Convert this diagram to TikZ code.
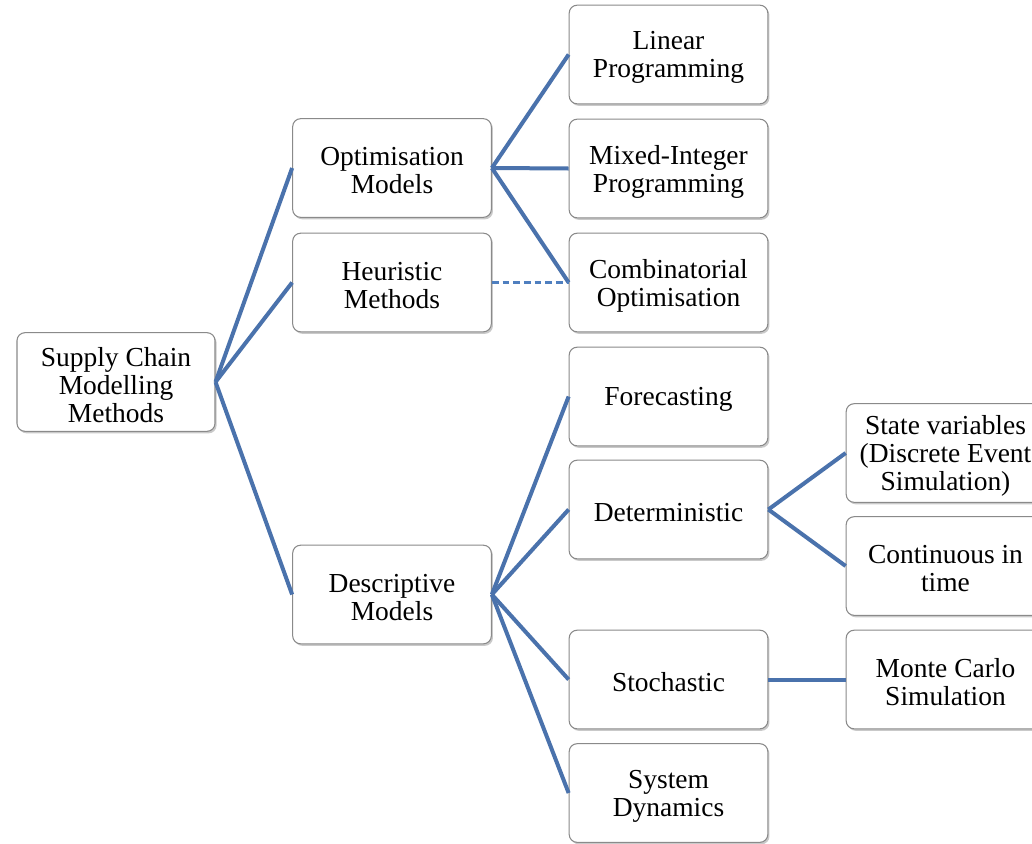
\documentclass[tikz,border=0pt]{standalone}
\usepackage{fontspec}
\setmainfont{Liberation Serif}
\usetikzlibrary{shadows}
\definecolor{linkblue}{HTML}{4A72AC}
\definecolor{dashblue}{HTML}{4F7FBF}
\definecolor{boxgray}{HTML}{8A8A8A}
\begin{document}
\begin{tikzpicture}[x=0.75pt,y=-0.75pt,
  box/.style={draw=boxgray, line width=0.8pt, fill=white, rounded corners=6pt,
    minimum width=149pt, minimum height=74pt, align=center, inner sep=2pt,
    font=\fontsize{20.6}{21}\selectfont,
    drop shadow={shadow xshift=1.2pt, shadow yshift=-1.5pt, opacity=0.35, fill=black!60}},
  lab/.style={align=center, inner sep=0pt, yshift=-2.2pt, font=\fontsize{20.6}{21}\selectfont},
  link/.style={draw=linkblue, line width=3pt},
  dlink/.style={draw=dashblue, line width=1.9pt, dash pattern=on 5pt off 3pt}]
\clip (0,0) rectangle (1032,843);
\fill[white] (0,0) rectangle (1032,843);
\node[box, minimum width=148.5pt, label={[lab]center:Supply Chain\\Modelling\\Methods}] (root) at (116,382) {};
\node[box, label={[lab]center:Optimisation\\Models}] (opt) at (392,168) {};
\node[box, label={[lab]center:Heuristic\\Methods}] (heur) at (392,282.5) {};
\node[box, label={[lab]center:Descriptive\\Models}] (desc) at (392,594.5) {};
\node[box, label={[lab]center:Linear\\Programming}] (lin) at (668.5,54.5) {};
\node[box, label={[lab]center:Mixed-Integer\\Programming}] (mix) at (668.5,168.5) {};
\node[box, label={[lab]center:Combinatorial\\Optimisation}] (comb) at (668.5,282.5) {};
\node[box, label={[lab]center:Forecasting}] (fore) at (668.5,396.5) {};
\node[box, label={[lab]center:Deterministic}] (det) at (668.5,509.5) {};
\node[box, label={[lab]center:Stochastic}] (sto) at (668.5,679.5) {};
\node[box, label={[lab]center:System\\Dynamics}] (sys) at (668.5,793) {};
\node[box, label={[lab]center:State variables\\(Discrete Event\\Simulation)}] (state) at (945.5,453) {};
\node[box, label={[lab]center:Continuous in\\time}] (cont) at (945.5,566) {};
\node[box, label={[lab]center:Monte Carlo\\Simulation}] (monte) at (945.5,679.5) {};
\draw[link] (root.east) -- (opt.west);
\draw[link] (root.east) -- (heur.west);
\draw[link] (root.east) -- (desc.west);
\draw[link] (opt.east) -- (lin.west);
\draw[link] (opt.east) -- (mix.west);
\draw[link] (opt.east) -- (comb.west);
\draw[dlink] (heur.east) -- (comb.west);
\draw[link] (desc.east) -- (fore.west);
\draw[link] (desc.east) -- (det.west);
\draw[link] (desc.east) -- (sto.west);
\draw[link] (desc.east) -- (sys.west);
\draw[link] (det.east) -- (state.west);
\draw[link] (det.east) -- (cont.west);
\draw[link] (sto.east) -- (monte.west);
\end{tikzpicture}
\end{document}
